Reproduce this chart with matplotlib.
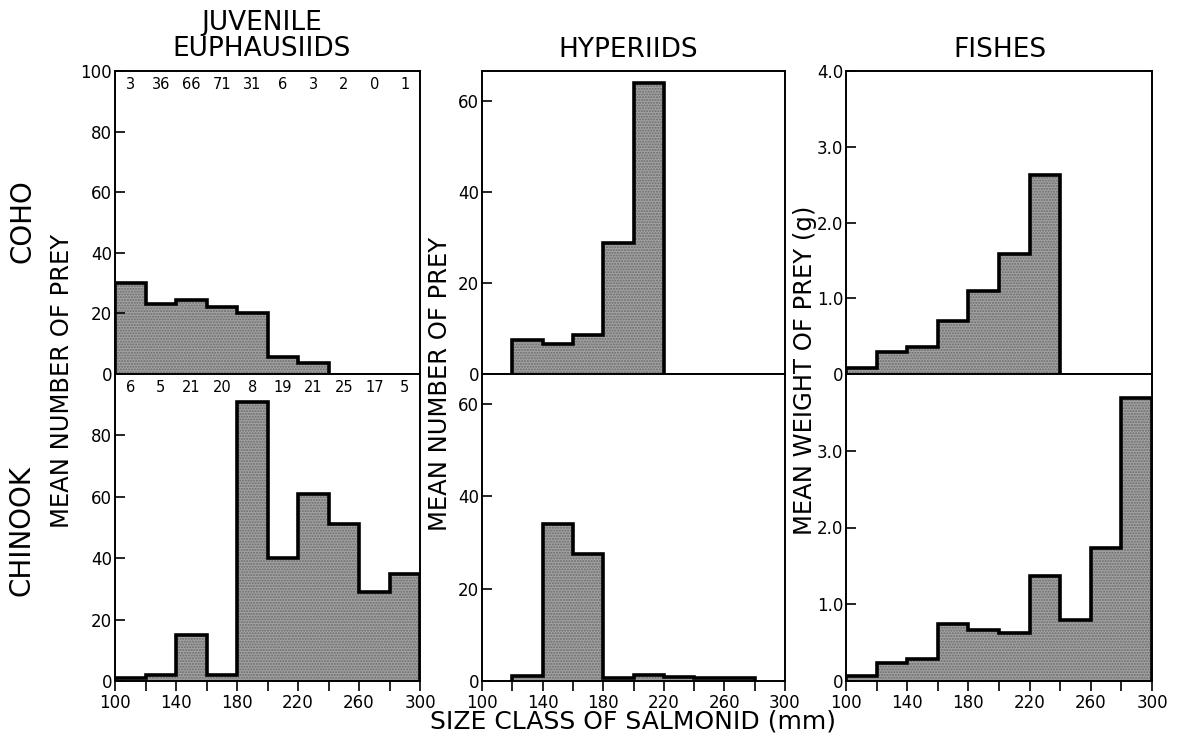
import numpy as np
import matplotlib.pyplot as plt

# size classes of salmonid (mm), 20 mm bins
size_edges = [100, 120, 140, 160, 180, 200, 220, 240, 260, 280, 300]
size_ticks = [100, 140, 180, 220, 260, 300]

# mean number / weight of prey per size class
coho_euph = [30, 23, 24.5, 22, 20, 5.5, 3.5, 0, 0, 0]
chinook_euph = [1, 2, 15, 2, 91, 40, 61, 51, 29, 35]
coho_hyp = [0, 7.5, 6.5, 8.6, 28.8, 63.8, 0, 0, 0, 0]
chinook_hyp = [0, 1.1, 34, 27.6, 0.6, 1.4, 0.8, 0.7, 0.7, 0]
coho_fish = [0.08, 0.29, 0.35, 0.70, 1.09, 1.59, 2.63, 0, 0, 0]
chinook_fish = [0.07, 0.23, 0.29, 0.74, 0.67, 0.63, 1.37, 0.79, 1.73, 3.69]

# sample sizes per size class
coho_n = [3, 36, 66, 71, 31, 6, 3, 2, 0, 1]
chinook_n = [6, 5, 21, 20, 8, 19, 21, 25, 17, 5]

col_titles = ["JUVENILE\nEUPHAUSIIDS", "HYPERIIDS", "FISHES"]
row_labels = ["COHO", "CHINOOK"]

euph_yticks_top = [0, 20, 40, 60, 80, 100]
euph_yticks_bot = [0, 20, 40, 60, 80]
hyp_yticks = [0, 20, 40, 60]
fish_yticks_top = [0, 1.0, 2.0, 3.0, 4.0]
fish_yticks_bot = [0, 1.0, 2.0, 3.0]

FILL = "#a2a2a2"


def draw_hist(ax, vals):
    edges = np.array(size_edges)
    vals = np.array(vals, dtype=float)
    ax.bar(edges[:-1], vals, width=20, align="edge", color=FILL,
           hatch="......", edgecolor="#6a6a6a", linewidth=0)
    nz = np.nonzero(vals)[0]
    i0, i1 = nz[0], nz[-1] + 1
    ax.stairs(vals[i0:i1], edges[i0:i1 + 1], color="black", lw=2.6, baseline=0)


def setup(ax, ylim, yticks, bottom):
    ax.set_xlim(100, 300)
    ax.set_ylim(0, ylim)
    ax.set_yticks(yticks)
    ax.set_yticklabels(["0" if t == 0 else (f"{t:.1f}" if isinstance(t, float) else str(t)) for t in yticks])
    ax.tick_params(axis="y", direction="in", length=7, width=1.2, pad=2, labelsize=12)
    for s in ax.spines.values():
        s.set_linewidth(1.4)
    if bottom:
        ax.set_xticks(size_edges, minor=True)
        ax.set_xticks(size_ticks)
        ax.tick_params(axis="x", which="both", direction="out", length=7, width=1.2, pad=2, labelsize=12)
    else:
        ax.set_xticks([])


plt.rcParams["font.family"] = "DejaVu Sans"
fig = plt.figure(figsize=(11.8, 7.46), dpi=100)

W, H = 1180, 746
cols_x = [(115, 305), (482, 303), (846, 306)]
top_y = (71, 374)
bot_y = (374, 681)

axes = {}
for c, (x0, w) in enumerate(cols_x):
    for r, (y0, y1) in enumerate([top_y, bot_y]):
        axes[(r, c)] = fig.add_axes([x0 / W, 1 - y1 / H, w / W, (y1 - y0) / H])

draw_hist(axes[(0, 0)], coho_euph)
setup(axes[(0, 0)], 100, euph_yticks_top, False)
draw_hist(axes[(1, 0)], chinook_euph)
setup(axes[(1, 0)], 100, euph_yticks_bot, True)

draw_hist(axes[(0, 1)], coho_hyp)
setup(axes[(0, 1)], 66.5, hyp_yticks, False)
draw_hist(axes[(1, 1)], chinook_hyp)
setup(axes[(1, 1)], 66.5, hyp_yticks, True)

draw_hist(axes[(0, 2)], coho_fish)
setup(axes[(0, 2)], 4.0, fish_yticks_top, False)
draw_hist(axes[(1, 2)], chinook_fish)
setup(axes[(1, 2)], 4.0, fish_yticks_bot, True)

centers = np.array(size_edges[:-1]) + 10
for x, n in zip(centers, coho_n):
    axes[(0, 0)].text(x, 95.5, str(n), ha="center", va="center", fontsize=10.5)
for x, n in zip(centers, chinook_n):
    axes[(1, 0)].text(x, 95.5, str(n), ha="center", va="center", fontsize=10.5)

# column titles
fig.text(262 / W, 1 - 36 / H, col_titles[0], ha="center", va="center", fontsize=19, linespacing=1.0)
fig.text(628 / W, 1 - 50 / H, col_titles[1], ha="center", va="center", fontsize=19)
fig.text(1000 / W, 1 - 50 / H, col_titles[2], ha="center", va="center", fontsize=19)

# row labels
fig.text(22 / W, 1 - 221 / H, row_labels[0], rotation=90, ha="center", va="center", fontsize=20)
fig.text(22 / W, 1 - 530 / H, row_labels[1], rotation=90, ha="center", va="center", fontsize=20)

# y axis labels
fig.text(62 / W, 1 - 381 / H, "MEAN NUMBER OF PREY", rotation=90, ha="center", va="center", fontsize=17.5)
fig.text(440 / W, 1 - 384 / H, "MEAN NUMBER OF PREY", rotation=90, ha="center", va="center", fontsize=17.5)
fig.text(805 / W, 1 - 370 / H, "MEAN WEIGHT OF PREY (g)", rotation=90, ha="center", va="center", fontsize=17.5)

fig.text(633 / W, 1 - 722 / H, "SIZE CLASS OF SALMONID (mm)", ha="center", va="center", fontsize=18)

fig.savefig("out.png", dpi=100)
